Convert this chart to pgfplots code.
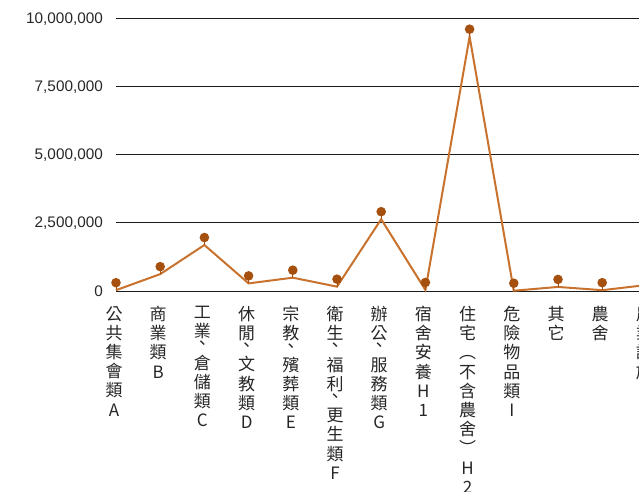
\documentclass[border=0pt]{standalone}
\usepackage{fontspec}
\setmainfont{Liberation Sans}
\newfontfamily\cjk{Noto Sans CJK TC}
\usepackage{pgfplots}
\pgfplotsset{compat=1.18}
\definecolor{linec}{HTML}{C8722D}
\definecolor{markc}{HTML}{A5500F}
\definecolor{gridc}{HTML}{1A1A1A}
\definecolor{txt}{HTML}{262626}
\pgfdeclareplotmark{pin}{%
  \pgfsetlinewidth{1bp}%
  \pgfpathmoveto{\pgfpoint{0pt}{0pt}}%
  \pgfpathlineto{\pgfpoint{0pt}{5bp}}%
  \pgfusepathqstroke
  \pgfpathcircle{\pgfpoint{0pt}{7.5bp}}{4.8bp}%
  \pgfusepathqfill}
\newcommand{\dun}{\\[-7bp]、}
\begin{document}
\begin{tikzpicture}
\useasboundingbox (0,0) rectangle (639bp,492bp);
\clip (0,0) rectangle (639bp,492bp);
\begin{axis}[
  at={(116bp,201bp)}, anchor=south west,
  scale only axis, width=530.4bp, height=272bp,
  xmin=0, xmax=12, ymin=0, ymax=10000000,
  clip=false,
  axis line style={draw=none},
  major tick length=0,
  ymajorgrids, major grid style={gridc, line width=1bp},
  ytick={0,2500000,5000000,7500000,10000000},
  scaled y ticks=false,
  /pgf/number format/.cd, fixed, precision=0, 1000 sep={,}, assume math mode=true,
  /pgfplots/.cd,
  yticklabel style={font=\fontsize{15.3bp}{17bp}\selectfont, text=txt, anchor=east, inner sep=0pt, xshift=-13bp},
  xtick={0,...,12},
  xticklabels={
    {公\\共\\集\\會\\類\\A},
    {商\\業\\類\\B},
    {工\\業\dun\\倉\\儲\\類\\C},
    {休\\閒\dun\\文\\教\\類\\D},
    {宗\\教\dun\\殯\\葬\\類\\E},
    {衛\\生\dun\\福\\利\dun\\更\\生\\類\\F},
    {辦\\公\dun\\服\\務\\類\\G},
    {宿\\舍\\安\\養\\H\\1},
    {住\\宅\\︵\\不\\含\\農\\舍\\︶\\H\\2},
    {危\\險\\物\\品\\類\\I},
    {其\\它},
    {農\\舍},
    {農\\業\\設\\施}
  },
  xticklabel style={font=\cjk\fontsize{17bp}{19.2bp}\selectfont, text=txt, anchor=north, align=center, inner sep=0pt, yshift=-15bp, xshift=-2bp},
]
\addplot[linec, line width=2bp, mark=pin, mark options={markc, fill=markc}] coordinates {
  (0,30000) (1,620000) (2,1690000) (3,280000) (4,490000) (5,160000)
  (6,2640000) (7,40000) (8,9350000) (9,10000) (10,150000) (11,30000) (12,220000)
};
\end{axis}
\end{tikzpicture}
\end{document}
